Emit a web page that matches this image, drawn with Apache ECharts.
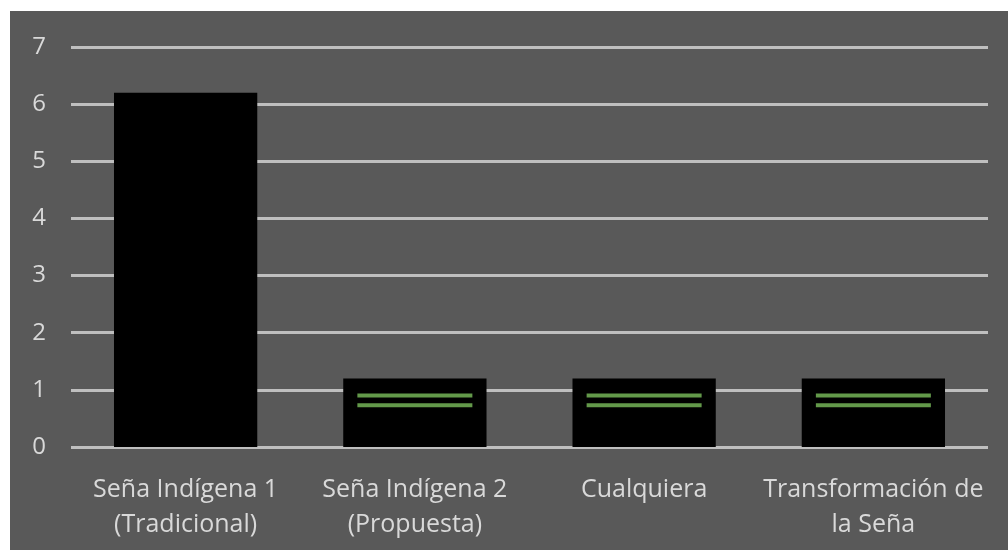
<!DOCTYPE html>
<html>
<head>
<meta charset="utf-8">
<script src="https://cdn.jsdelivr.net/npm/echarts@6/dist/echarts.min.js"></script>
<style>
  html, body { margin: 0; padding: 0; background: #ffffff; }
  #chart { width: 1008px; height: 550px; }
</style>
</head>
<body>
<div id="chart"></div>
<script>
// Chart data
const categories = ['Seña Indígena 1\n(Tradicional)', 'Seña Indígena 2\n(Propuesta)', 'Cualquiera', 'Transformación de\nla Seña'];
const barValues = [6.2, 1.2, 1.2, 1.2];
const greenUpper = [null, 0.9, 0.9, 0.9];
const greenLower = [null, 0.73, 0.73, 0.73];
const yTicks = [0, 1, 2, 3, 4, 5, 6, 7];

const chart = echarts.init(document.getElementById('chart'));

const labelFont = '"Open Sans", "Noto Sans", sans-serif';
const greenMark = {
    type: 'scatter',
    symbol: 'rect',
    symbolSize: [115, 4],
    itemStyle: { color: '#7cbf5c' },
    z: 5,
    silent: true
};

chart.setOption({
    backgroundColor: '#ffffff',
    animation: false,
    graphic: [{
        type: 'rect',
        z: -10,
        shape: { x: 10, y: 11, width: 998, height: 539 },
        style: { fill: '#595959' }
    }],
    grid: { left: 71, right: 20, top: 47, bottom: 103 },
    xAxis: {
        type: 'category',
        data: categories,
        axisLine: { show: false },
        axisTick: { show: false },
        axisLabel: {
            color: '#d9d9d9',
            fontFamily: labelFont,
            fontSize: 25,
            lineHeight: 35,
            margin: 25,
            interval: 0
        }
    },
    yAxis: {
        type: 'value',
        min: yTicks[0],
        max: yTicks[yTicks.length - 1],
        interval: 1,
        axisLine: { show: false },
        axisTick: { show: false },
        axisLabel: {
            color: '#d9d9d9',
            fontFamily: labelFont,
            fontSize: 24,
            margin: 25,
            padding: [5, 0, 0, 0]
        },
        splitLine: { lineStyle: { color: '#bfbfbf', width: 3 } }
    },
    series: [
        {
            type: 'bar',
            data: barValues,
            barWidth: '62.5%',
            itemStyle: { color: '#000000' },
            z: 3
        },
        Object.assign({ data: greenUpper }, greenMark),
        Object.assign({ data: greenLower }, greenMark)
    ]
});
</script>
</body>
</html>
